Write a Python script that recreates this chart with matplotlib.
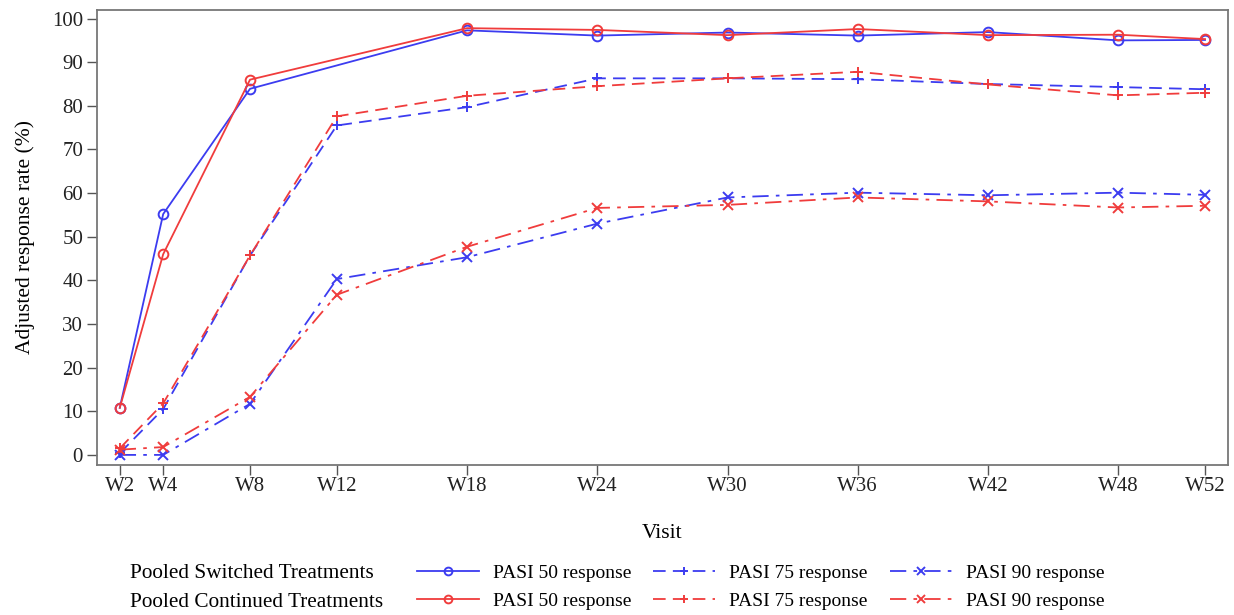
import numpy as np
import matplotlib.pyplot as plt

plt.rcParams['font.family'] = ['Liberation Serif', 'DejaVu Serif']

weeks = [2, 4, 8, 12, 18, 24, 30, 36, 42, 48, 52]
week_labels = ['W2', 'W4', 'W8', 'W12', 'W18', 'W24', 'W30', 'W36', 'W42', 'W48', 'W52']

# PASI 50 has no W12 visit
weeks_50 = [2, 4, 8, 18, 24, 30, 36, 42, 48, 52]
sw_50 = [10.8, 55.2, 83.9, 97.3, 96.1, 96.8, 96.1, 96.9, 95.0, 95.1]
co_50 = [10.8, 46.0, 86.0, 97.8, 97.4, 96.2, 97.6, 96.2, 96.3, 95.3]

sw_75 = [0.4, 10.5, 45.7, 75.5, 79.7, 86.3, 86.3, 86.1, 85.0, 84.3, 83.8]
co_75 = [1.5, 11.8, 45.7, 77.6, 82.3, 84.5, 86.3, 87.8, 84.9, 82.4, 83.0]

sw_90 = [0.0, 0.0, 11.7, 40.3, 45.3, 53.0, 59.0, 60.1, 59.5, 60.1, 59.6]
co_90 = [1.2, 1.8, 13.3, 36.7, 47.7, 56.6, 57.3, 59.0, 58.1, 56.7, 57.1]

blue = '#3c3cf0'
red = '#f03c3c'
dash75 = (0, (7, 4))
dash90 = (0, (9, 4, 2, 4))

fig = plt.figure(figsize=(12.34, 6.15), dpi=100)
ax = fig.add_axes([0.0786, 0.244, 0.9164, 0.74])

kw = dict(linewidth=1.3, markersize=7, markeredgewidth=1.4)
h1 = ax.plot(weeks_50, sw_50, color=blue, marker='o', mfc='none', linestyle='-', **kw)[0]
h2 = ax.plot(weeks_50, co_50, color=red, marker='o', mfc='none', linestyle='-', **kw)[0]
h3 = ax.plot(weeks, sw_75, color=blue, marker='+', linestyle=dash75, **kw)[0]
h4 = ax.plot(weeks, co_75, color=red, marker='+', linestyle=dash75, **kw)[0]
h5 = ax.plot(weeks, sw_90, color=blue, marker='x', linestyle=dash90, **kw)[0]
h6 = ax.plot(weeks, co_90, color=red, marker='x', linestyle=dash90, **kw)[0]

ax.set_xlim(0.95, 53.05)
ax.set_ylim(-2.3, 102)
ax.set_xticks(weeks)
ax.set_xticklabels(week_labels, fontsize=15)
ax.set_yticks(np.arange(0, 101, 10))
ax.tick_params(axis='y', labelsize=15, pad=3)
ax.tick_params(axis='x', pad=2)
ax.tick_params(direction='out', length=7, width=1, colors='#555555', labelcolor='#222222')
for s in ax.spines.values():
    s.set_color('#777777')
    s.set_linewidth(1.3)
ax.set_xlabel('Visit', fontsize=15.5, labelpad=20)
ax.set_ylabel('Adjusted response rate (%)', fontsize=15.5, labelpad=12)

fig.text(0.105, 0.068, 'Pooled Switched Treatments', fontsize=15.3, va='center')
fig.text(0.105, 0.020, 'Pooled Continued Treatments', fontsize=15.3, va='center')

leg = fig.legend([h1, h2, h3, h4, h5, h6],
                 ['PASI 50 response'] * 2 + ['PASI 75 response'] * 2 + ['PASI 90 response'] * 2,
                 ncol=3, loc='center left', bbox_to_anchor=(0.3235, 0.045),
                 frameon=False, fontsize=14, handlelength=3.2, columnspacing=1.15,
                 labelspacing=0.55, handletextpad=0.7, markerscale=0.8)

fig.savefig('out.png', dpi=100)
